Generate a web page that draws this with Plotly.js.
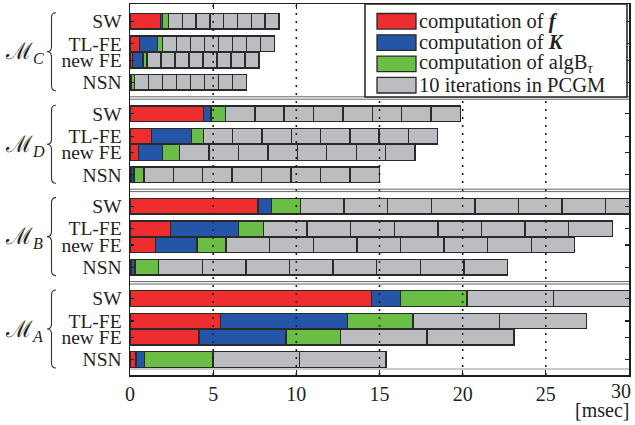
<!DOCTYPE html>
<html><head><meta charset="utf-8">
<script src="https://cdn.plot.ly/plotly-3.0.1.min.js"></script>
<style>html,body{margin:0;padding:0;background:#fff}#chart{width:635px;height:425px}</style>
</head><body><div id="chart"></div>
<script>
// ---- data (msec) ----
const groups  = ['C', 'D', 'B', 'A'];             // top to bottom
const methods = ['SW', 'TL-FE', 'new FE', 'NSN']; // within each group
// bar order: C(SW,TL-FE,new FE,NSN), D(...), B(...), A(...)
const timeF     = [1.83, 0.57, 0.15, 0.03,  4.42, 1.31, 0.51, 0.05,  7.69, 2.44, 1.52, 0.10,  14.52, 5.44, 4.14, 0.37];
const timeK     = [0.13, 1.10, 0.62, 0.05,  0.46, 2.40, 1.43, 0.18,  0.80, 4.07, 2.50, 0.21,   1.73, 7.62, 5.25, 0.50];
const timeAlgB  = [0.35, 0.30, 0.26, 0.19,  0.86, 0.71, 1.04, 0.60,  1.76, 1.52, 1.76, 1.42,   4.00, 3.95, 3.25, 4.11];
const timePCGM  = [0.83, 0.84, 0.84, 0.84,  1.765,1.76, 1.77, 1.77,  2.62, 2.62, 2.62, 2.62,   5.21, 5.21, 5.22, 5.21]; // per block of 10 iterations
const numBlocks = [8, 8, 8, 8,  8, 8, 8, 8,  8, 8, 8, 8,  2, 2, 2, 2];
const xTicks    = [0, 5, 10, 15, 20, 25, 30];
const legendLabels = ['computation of <b><i>f</i></b>', 'computation of <b><i>K</i></b>',
                      'computation of algB<sub><i>τ</i></sub>', '10 iterations in PCGM'];

// ---- layout constants ----
const W = 635, H = 425, ML = 130, MR = 6, MT = 4, MB = 50;
const PW = W - ML - MR, PH = H - MT - MB;
const px = p => (p - ML) / PW;            // pixel x -> paper x
const firstCenter = 21.3, groupStep = 92.4;
const offsets = [0, 22.5, 38.8, 61];
const barW = 15.5;
const colors = ['#ee2e2e', '#2455a6', '#6abd45', '#bcbdc0'];
const edge = '#2a2a2a';
const ink = '#231f20';
const serif = 'Liberation Serif, Times New Roman, serif';

const yPos = [], yText = [];
groups.forEach((g, gi) => methods.forEach((m, mi) => {
  yPos.push(firstCenter + gi * groupStep + offsets[mi]);
  yText.push(m);
}));

const base = {type: 'bar', orientation: 'h', y: yPos, width: barW, showlegend: false,
              hoverinfo: 'skip'};
const traces = [];
[timeF, timeK, timeAlgB].forEach((arr, i) => {
  traces.push(Object.assign({}, base, {x: arr, marker: {color: colors[i], line: {color: edge, width: 1.4}}}));
});
const maxBlocks = Math.max(...numBlocks);
for (let k = 0; k < maxBlocks; k++) {
  traces.push(Object.assign({}, base, {
    x: timePCGM.map((t, i) => k < numBlocks[i] ? t : null),
    marker: {color: colors[3], line: {color: edge, width: 1.4}}
  }));
}

const shapes = [];
const annotations = [];
// dotted grid lines
xTicks.slice(1, -1).forEach(v => shapes.push({type: 'line', xref: 'x', yref: 'paper', x0: v, x1: v, y0: 0, y1: 1,
  line: {color: ink, width: 1.6, dash: '2px,6px'}, layer: 'above'}));
// group separators
for (let gi = 0; gi < groups.length - 1; gi++) {
  const yb = (yPos[gi * 4 + 3] + yPos[(gi + 1) * 4]) / 2;
  [-1.2, 1.2].forEach(d => shapes.push({type: 'line', xref: 'paper', yref: 'y', x0: 0, x1: 1, y0: yb + d, y1: yb + d,
    line: {color: '#555', width: 0.9}, layer: 'above'}));
}
shapes.push({type: 'line', xref: 'paper', yref: 'y', x0: 0, x1: 1, y0: yPos[15] + 9.5, y1: yPos[15] + 9.5,
  line: {color: '#888', width: 0.9}, layer: 'above'});
// braces + group labels
groups.forEach((g, gi) => {
  const yc = (yPos[gi * 4] + yPos[gi * 4 + 3]) / 2;
  const h = 39, r = 5;
  const xt = px(47), xm = px(51.5), xe = px(56);
  const path = `M${xe},${yc - h} Q${xm},${yc - h} ${xm},${yc - h + r} L${xm},${yc - r} Q${xm},${yc} ${xt},${yc} ` +
               `Q${xm},${yc} ${xm},${yc + r} L${xm},${yc + h - r} Q${xm},${yc + h} ${xe},${yc + h}`;
  shapes.push({type: 'path', xref: 'paper', yref: 'y', path: path, line: {color: '#333', width: 1.1}});
  annotations.push({xref: 'paper', yref: 'y', x: px(3), y: yc + 1, xanchor: 'left', yanchor: 'middle', showarrow: false,
    text: '<span style="font-family:DejaVu Serif">ℳ</span><sub><i>' + g + '</i></sub>',
    font: {family: serif, size: 23, color: ink}});
});
// custom legend
shapes.push({type: 'rect', xref: 'paper', yref: 'y', x0: px(365), x1: px(627), y0: 4, y1: 97,
  fillcolor: '#fff', line: {color: ink, width: 1.5}, layer: 'above'});
const legRow = [21.3, 42.6, 63.9, 85.2];
legendLabels.forEach((t, i) => {
  shapes.push({type: 'rect', xref: 'paper', yref: 'y', x0: px(377), x1: px(416), y0: legRow[i] - 7.8, y1: legRow[i] + 7.8,
    fillcolor: colors[i], line: {color: edge, width: 1.3}, layer: 'above'});
  annotations.push({xref: 'paper', yref: 'y', x: px(417), y: legRow[i], xanchor: 'left', yanchor: 'middle',
    showarrow: false, text: t, font: {family: serif, size: 20.5, color: ink}});
});
annotations.push({xref: 'paper', yref: 'paper', x: 1.005, y: (PH + MT - 410) / PH, xanchor: 'right',
  yanchor: 'middle', showarrow: false, text: '[msec]', font: {family: serif, size: 20, color: ink}});
// last x tick label kept inside the page, as in the reference
annotations.push({xref: 'paper', yref: 'paper', x: px(633), y: (PH + MT - 391) / PH, xanchor: 'right',
  yanchor: 'middle', showarrow: false, text: String(xTicks[xTicks.length - 1]), font: {family: serif, size: 20, color: ink}});

const layout = {
  width: W, height: H, margin: {l: ML, r: MR, t: MT, b: MB},
  paper_bgcolor: '#fff', plot_bgcolor: '#fff', barmode: 'stack', bargap: 0,
  font: {family: serif, color: ink},
  xaxis: {range: [0, 30], tickvals: xTicks, ticktext: xTicks.map((v, i) => i === xTicks.length - 1 ? '' : String(v)),
          ticks: 'inside', ticklen: 5, tickwidth: 1.2, tickcolor: ink,
          showline: true, linewidth: 1.5, linecolor: ink, mirror: 'ticks', showgrid: false, zeroline: false,
          ticklabelstandoff: 0,
          tickfont: {family: serif, size: 20, color: ink}},
  yaxis: {range: [375, 4], tickvals: yPos, ticktext: yText, ticks: 'inside', ticklen: 4, tickwidth: 1.2,
          tickcolor: ink, showline: true, linewidth: 1.5, linecolor: ink, mirror: 'ticks',
          showgrid: false, zeroline: false, ticklabelstandoff: 3,
          tickfont: {family: serif, size: 19.5, color: ink}},
  shapes: shapes, annotations: annotations
};
Plotly.newPlot('chart', traces, layout, {staticPlot: true, displayModeBar: false});
</script></body></html>
